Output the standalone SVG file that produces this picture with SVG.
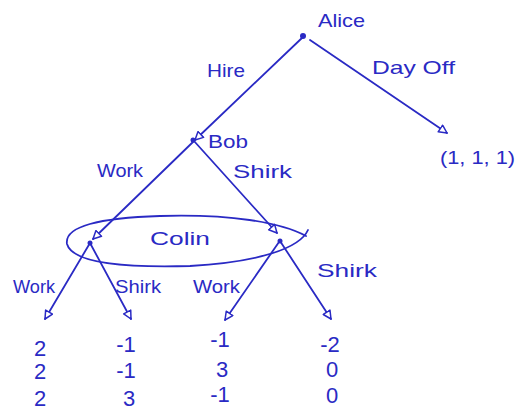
<svg xmlns="http://www.w3.org/2000/svg" width="520" height="415" viewBox="0 0 520 415">
  <style>
    .edge { stroke: #2a2ac4; stroke-width: 1.8; fill: none; stroke-linecap: round; }
    .set { stroke: #2a2ac4; stroke-width: 1.8; fill: none; stroke-linejoin: round; stroke-linecap: round; }
    .dot { fill: #2a2ac4; }
    text { font-family: "Liberation Sans", "DejaVu Sans", sans-serif; fill: #2a2ac4; font-size: 19px; }
    .num { font-size: 22px; text-anchor: middle; }
  </style>
  <defs>
    <marker id="arrow" viewBox="0 0 10 10" refX="9" refY="5" markerWidth="10" markerHeight="10" orient="auto" markerUnits="userSpaceOnUse">
      <path d="M1,1 L9,5 L1,9 Z" fill="#ffffff" stroke="#2a2ac4" stroke-width="1.5" stroke-linejoin="round"/>
    </marker>
  </defs>
  <rect width="520" height="415" fill="#ffffff"/>

  <!-- edges of the game tree -->
  <g id="connectors">
    <line class="edge" x1="303" y1="37" x2="195" y2="140" marker-end="url(#arrow)"/>
    <line class="edge" x1="310" y1="40" x2="447" y2="133" marker-end="url(#arrow)"/>
    <line class="edge" x1="194" y1="141" x2="93" y2="239" marker-end="url(#arrow)"/>
    <line class="edge" x1="194" y1="141" x2="277" y2="233" marker-end="url(#arrow)"/>
    <line class="edge" x1="90" y1="243" x2="45" y2="319" marker-end="url(#arrow)"/>
    <line class="edge" x1="90" y1="243" x2="131" y2="319" marker-end="url(#arrow)"/>
    <line class="edge" x1="279" y1="242" x2="225" y2="320" marker-end="url(#arrow)"/>
    <line class="edge" x1="280" y1="241" x2="331" y2="319" marker-end="url(#arrow)"/>
  </g>

  <!-- Alice: root decision -->
  <g id="alice">
    <circle class="dot" cx="303" cy="36" r="3"/>
    <text x="318" y="27" textLength="47" lengthAdjust="spacingAndGlyphs">Alice</text>
  </g>

  <!-- action labels -->
  <g id="labels">
    <text x="207" y="77" textLength="38" lengthAdjust="spacingAndGlyphs">Hire</text>
    <text x="372" y="74" textLength="83" lengthAdjust="spacingAndGlyphs">Day Off</text>
    <text x="97" y="177" textLength="46" lengthAdjust="spacingAndGlyphs">Work</text>
    <text x="233" y="178" textLength="59" lengthAdjust="spacingAndGlyphs">Shirk</text>
    <text x="13" y="293" textLength="42" lengthAdjust="spacingAndGlyphs">Work</text>
    <text x="115" y="293" textLength="46" lengthAdjust="spacingAndGlyphs">Shirk</text>
    <text x="193" y="293" textLength="47" lengthAdjust="spacingAndGlyphs">Work</text>
    <text x="317" y="277" textLength="60" lengthAdjust="spacingAndGlyphs">Shirk</text>
  </g>

  <!-- terminal after Day Off -->
  <g id="dayoff-payoff">
    <text x="440" y="164" font-size="21" textLength="75" lengthAdjust="spacingAndGlyphs">(1, 1, 1)</text>
  </g>

  <!-- Bob -->
  <g id="bob">
    <circle class="dot" cx="193" cy="140" r="2.5"/>
    <text x="208" y="148" textLength="40" lengthAdjust="spacingAndGlyphs">Bob</text>
  </g>

  <!-- Colin's information set -->
  <g id="colin">
    <path class="set" d="M308,230 C300,248 260,262 190,266 C120,268 72,262 67,244 C64,226 100,218 160,216 C230,214 280,222 306,236"/>
    <circle class="dot" cx="90" cy="243" r="2.5"/>
    <circle class="dot" cx="280" cy="241" r="2.5"/>
    <text x="150" y="245" textLength="60" lengthAdjust="spacingAndGlyphs">Colin</text>
  </g>

  <!-- terminal payoffs -->
  <g id="payoff-ww">
    <text class="num" x="40" y="356">2</text>
    <text class="num" x="40" y="379">2</text>
    <text class="num" x="40" y="406">2</text>
  </g>
  <g id="payoff-ws">
    <text class="num" x="126" y="352">-1</text>
    <text class="num" x="126" y="378">-1</text>
    <text class="num" x="129" y="406">3</text>
  </g>
  <g id="payoff-sw">
    <text class="num" x="220" y="347">-1</text>
    <text class="num" x="222" y="377">3</text>
    <text class="num" x="220" y="402">-1</text>
  </g>
  <g id="payoff-ss">
    <text class="num" x="330" y="352">-2</text>
    <text class="num" x="332" y="377">0</text>
    <text class="num" x="332" y="403">0</text>
  </g>
</svg>
